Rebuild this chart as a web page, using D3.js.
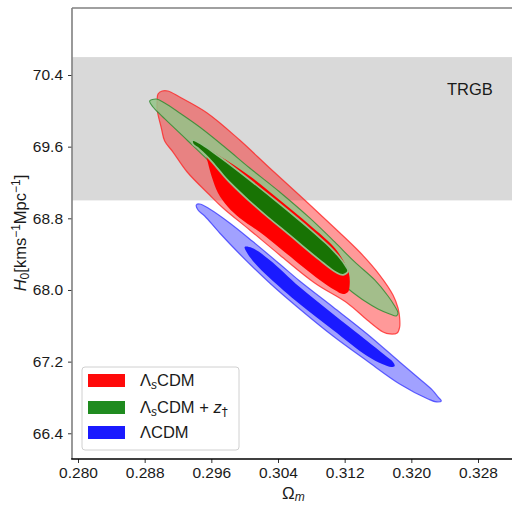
<!DOCTYPE html>
<html><head><meta charset="utf-8">
<script src="https://cdn.jsdelivr.net/npm/d3@7"></script>
<style>
body{margin:0;background:#fff}
svg{display:block}
text{font-family:"Liberation Sans",Arial,sans-serif;fill:#1a1a1a}
</style>
</head><body>
<svg id="c" width="512" height="506"></svg>
<script>
// ---- data ----
const xTicks = [0.280, 0.288, 0.296, 0.304, 0.312, 0.320, 0.328];
const yTicks = [66.4, 67.2, 68.0, 68.8, 69.6, 70.4];
const xDomain = [0.27928, 0.33208];
const yDomain = [66.113, 71.148];
const trgbBand = [69.0, 70.6];
const trgbLabel = "TRGB";

// contour outlines [Omega_m, H0]
const redOuter = [[0.2895,70.121],[0.2896,70.188],[0.2901,70.221],[0.2908,70.221],[0.2922,70.154],[0.2955,69.976],[0.2994,69.674],[0.3030,69.362],[0.3072,69.005],[0.3108,68.692],[0.3138,68.424],[0.3162,68.167],[0.3178,67.944],[0.3184,67.799],[0.3186,67.687],[0.3186,67.587],[0.3183,67.520],[0.3174,67.509],[0.3166,67.531],[0.3147,67.665],[0.3123,67.855],[0.3084,68.078],[0.3042,68.391],[0.3006,68.670],[0.2974,68.915],[0.2958,69.060],[0.2931,69.317],[0.2914,69.540],[0.2904,69.663],[0.2900,69.808],[0.2895,70.009]];
const redInner = [[0.2956,69.563],[0.2970,69.496],[0.3006,69.273],[0.3042,69.005],[0.3078,68.726],[0.3106,68.491],[0.3118,68.335],[0.3125,68.190],[0.3126,68.056],[0.3124,67.978],[0.3118,67.955],[0.3108,68.000],[0.3090,68.112],[0.3070,68.257],[0.3042,68.469],[0.3018,68.647],[0.2994,68.804],[0.2980,68.926],[0.2968,69.083],[0.2961,69.250],[0.2956,69.418],[0.2954,69.500]];
const greenOuter = [[0.2886,70.110],[0.2894,70.132],[0.2904,70.087],[0.2922,69.976],[0.2946,69.819],[0.2976,69.596],[0.3006,69.362],[0.3042,69.094],[0.3078,68.804],[0.3108,68.536],[0.3132,68.313],[0.3156,68.112],[0.3172,67.933],[0.3180,67.821],[0.3184,67.743],[0.3182,67.710],[0.3174,67.732],[0.3160,67.788],[0.3144,67.877],[0.3129,67.978],[0.3102,68.179],[0.3066,68.446],[0.3030,68.726],[0.3000,69.005],[0.2976,69.250],[0.2952,69.485],[0.2932,69.663],[0.2913,69.831],[0.2898,69.965],[0.2890,70.043]];
const greenInner = [[0.2938,69.663],[0.2946,69.630],[0.2970,69.473],[0.3006,69.217],[0.3042,68.949],[0.3078,68.670],[0.3102,68.469],[0.3114,68.346],[0.3120,68.268],[0.3123,68.212],[0.3118,68.179],[0.3111,68.201],[0.3090,68.346],[0.3054,68.625],[0.3018,68.904],[0.2982,69.217],[0.2958,69.473],[0.2944,69.596],[0.2939,69.630]];
const blueOuter = [[0.2942,68.949],[0.2946,68.960],[0.2958,68.904],[0.2982,68.748],[0.3009,68.547],[0.3042,68.290],[0.3066,68.100],[0.3106,67.810],[0.3147,67.509],[0.3186,67.196],[0.3210,67.006],[0.3225,66.884],[0.3232,66.806],[0.3236,66.761],[0.3230,66.750],[0.3220,66.783],[0.3186,66.951],[0.3147,67.207],[0.3106,67.486],[0.3066,67.788],[0.3030,68.078],[0.2994,68.402],[0.2970,68.636],[0.2952,68.826],[0.2944,68.893]];
const blueInner = [[0.3000,68.480],[0.3009,68.469],[0.3030,68.335],[0.3066,68.033],[0.3106,67.732],[0.3147,67.431],[0.3168,67.274],[0.3178,67.196],[0.3180,67.152],[0.3176,67.140],[0.3165,67.174],[0.3147,67.263],[0.3106,67.553],[0.3066,67.844],[0.3030,68.134],[0.3012,68.301],[0.3003,68.413]];

const legendItems = [
  {key:"red", parts:[["Λ",""],["s","sub-i"],["CDM",""]]},
  {key:"green", parts:[["Λ",""],["s","sub-i"],["CDM + ",""],["z","i"],["†","sub"]]},
  {key:"blue", parts:[["ΛCDM",""]]}
];

// ---- styles ----
const col = {
  redOuterFill:"rgba(255,0,0,0.40)", redOuterStroke:"rgba(255,30,30,0.75)",
  redInner:"#ff0000",
  greenOuterFill:"rgba(148,196,136,0.86)", greenOuterStroke:"rgba(50,140,50,0.85)",
  greenInner:"#187304", greenHalo:"#98bf8a",
  blueOuterFill:"rgba(0,0,255,0.37)", blueOuterStroke:"rgba(50,50,255,0.75)",
  blueInner:"#1a1aff",
  legRed:"#ff0a0a", legGreen:"#1f8b1f", legBlue:"#1a1aff"
};

const svg = d3.select("#c");
const L=72, T=8, R=512, B=459;
const x = d3.scaleLinear().domain(xDomain).range([L, R]);
const y = d3.scaleLinear().domain(yDomain).range([B, T]);

svg.append("defs").append("clipPath").attr("id","clip")
  .append("rect").attr("x",L).attr("y",T).attr("width",R-L).attr("height",B-T);

const plot = svg.append("g").attr("clip-path","url(#clip)");

// TRGB band
plot.append("rect").attr("x",L).attr("width",R-L)
  .attr("y",y(trgbBand[1])).attr("height",y(trgbBand[0])-y(trgbBand[1]))
  .attr("fill","#d9d9d9");

const line = d3.line().x(d=>x(d[0])).y(d=>y(d[1])).curve(d3.curveCatmullRomClosed.alpha(0.5));

function shape(data, fill, stroke, sw){
  plot.append("path").attr("d", line(data)).attr("fill", fill)
    .attr("stroke", stroke||"none").attr("stroke-width", sw||0).attr("stroke-linejoin","round");
}
shape(redOuter, col.redOuterFill, col.redOuterStroke, 1.2);
shape(greenOuter, col.greenOuterFill, col.greenOuterStroke, 1.1);
shape(redInner, col.redInner);
shape(greenInner, "none", col.greenHalo, 3.5);
shape(greenInner, col.greenInner);
shape(blueOuter, col.blueOuterFill, col.blueOuterStroke, 1.2);
shape(blueInner, col.blueInner);

// TRGB label
svg.append("text").attr("x",447).attr("y",95).style("font-size","16.5px").text(trgbLabel);

// axes
const xa = svg.append("g").attr("transform",`translate(0,${B})`)
  .call(d3.axisBottom(x).tickValues(xTicks).tickFormat(d3.format(".3f")).tickSize(4).tickPadding(4));
const ya = svg.append("g").attr("transform",`translate(${L},0)`)
  .call(d3.axisLeft(y).tickValues(yTicks).tickFormat(d3.format(".1f")).tickSize(4).tickPadding(5));
[xa,ya].forEach(a=>{
  a.select(".domain").remove();
  a.selectAll(".tick line").attr("stroke","#333").attr("stroke-width",1);
  a.selectAll(".tick text").style("font-size","15.5px").style("font-family",'"Liberation Sans",Arial,sans-serif').attr("fill","#1a1a1a");
});

// spines
svg.append("line").attr("x1",L).attr("x2",L).attr("y1",T).attr("y2",B).attr("stroke","#808080").attr("stroke-width",1.6);
svg.append("line").attr("x1",L).attr("x2",R).attr("y1",T).attr("y2",T).attr("stroke","#808080").attr("stroke-width",1.6);
svg.append("line").attr("x1",L-0.8).attr("x2",R).attr("y1",B).attr("y2",B).attr("stroke","#000").attr("stroke-width",1.4);

// axis labels
const xl = svg.append("text").attr("x",282).attr("y",499).style("font-size","17px");
xl.append("tspan").text("Ω");
xl.append("tspan").attr("dy",2).style("font-size","12px").style("font-style","italic").text("m");

const yl = svg.append("text").attr("transform","translate(26,233) rotate(-90)").attr("text-anchor","middle").style("font-size","16.5px");
yl.append("tspan").style("font-style","italic").text("H");
yl.append("tspan").attr("dy",3).style("font-size","12px").text("0");
yl.append("tspan").attr("dy",-3).text("[kms");
yl.append("tspan").attr("dy",-6).style("font-size","12px").text("−1");
yl.append("tspan").attr("dy",6).text("Mpc");
yl.append("tspan").attr("dy",-6).style("font-size","12px").text("−1");
yl.append("tspan").attr("dy",6).text("]");

// legend
const lg = svg.append("g");
lg.append("rect").attr("x",82).attr("y",367).attr("width",157).attr("height",83).attr("rx",3)
  .attr("fill","rgba(255,255,255,0.85)").attr("stroke","#d0d0d0").attr("stroke-width",1);
const legColor = {red:col.legRed, green:col.legGreen, blue:col.legBlue};
const rowY = [380.5, 407.5, 432.5];
legendItems.forEach((it,i)=>{
  lg.append("rect").attr("x",88).attr("y",rowY[i]-6.5).attr("width",37).attr("height",13).attr("fill",legColor[it.key]);
  const t = lg.append("text").attr("x",140).attr("y",rowY[i]+5.5).style("font-size","16.5px");
  let shift = 0;
  it.parts.forEach(p=>{
    const s = t.append("tspan").text(p[0]);
    const isSub = p[1].startsWith("sub");
    const dy = (isSub?3:0) - shift;
    if (dy) s.attr("dy", dy);
    shift = isSub?3:0;
    if (isSub) s.style("font-size","12px");
    if (p[1].endsWith("i")) s.style("font-style","italic");
    if (p[0] === "†") s.style("font-family",'"DejaVu Sans"').style("fill","#1a1a1a");
  });
});
</script>
</body></html>
